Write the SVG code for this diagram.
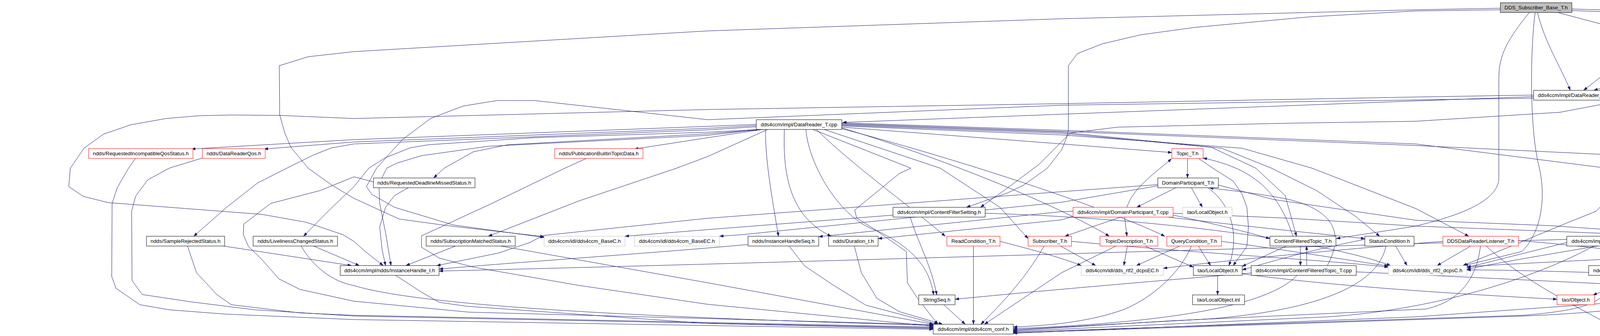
<svg xmlns="http://www.w3.org/2000/svg" width="5435" height="859" viewBox="0 0 5435 859">
<style>
.n rect{fill:#fff;stroke:#000;stroke-width:1}
.n.r rect{stroke:#f00}
.n.g rect{stroke:#bfbfbf}
.n.root rect{fill:#bfbfbf}
.n text{font-family:"Liberation Sans",Arial,Helvetica,sans-serif;font-size:13.3px;text-anchor:middle;fill:#000}
#edges path{fill:none;stroke:#191970;stroke-width:1;marker-end:url(#ah)}
</style>
<defs>
<marker id="ah" markerUnits="userSpaceOnUse" markerWidth="10" markerHeight="8" refX="10" refY="3.5" orient="auto"><path d="M0,0 L10,3.5 L0,7 z" fill="#191970" stroke="#191970" stroke-width="0.5"/></marker>
</defs>
<rect width="5435" height="859" fill="#fff"/>
<g id="edges">
<path d="M3988,32 L4176,82"/>
<path d="M3936,32 C3955,110 3995,170 4020,231"/>
<path d="M3930,32 C3918,120 3914,330 3941,430 C3960,520 3940,600 3896,643 L3748,679"/>
<path d="M3915,32 C3860,100 3837,140 3837,200 L3837,460 C3830,520 3720,555 3624,578 C3520,595 3460,603 3421,610"/>
<path d="M3841,21 L3624,25 L2718,48 L1812,79 L906,132 L789,145 L715,168 L716,293 L729,340 L745,377 L789,430 L849,473 L906,507 L1022,560 L1154,578 L1393,605"/>
<path d="M4024,23 L4530,38 L4992,62 L5085,72 L5131,80 L5171,97 L5223,123 L5268,156"/>
<path d="M4024,27 L4530,45 L4923,89 L5024,112 L5088,137 L5111,168 L5111,318 L5105,337 L5085,360 L5036,387 L4911,430 L4807,455"/>
<path d="M3841,25 L3624,28 L3353,43 L3059,70 L2920,89 L2822,112 L2758,137 L2735,168 L2735,333 L2730,353 L2718,383 L2681,430 L2621,473 L2580,493 L2474,530"/>
<path d="M4213,107 L4054,231"/>
<path d="M4245,107 L4283,156"/>
<path d="M4222,107 C4185,170 4166,230 4166,330 L4166,430 L4147,470 L4127,497 L4086,540 L3994,577 L3867,630 L3745,679"/>
<path d="M4320,100 L4530,120 L4854,163 L4934,182 L5004,202 L5044,220 L5060,243 L5060,322 L5064,350 L5076,377 L5093,397 L5137,430 L5165,450 L5200,483 L5215,510 L5216,697 L5200,730 L5183,750 L5125,779 L5033,793 L4530,816 L4318,833"/>
<path d="M4320,103 L4530,128 L4790,173 L4859,190 L4908,205 L4945,223 L4959,243 L4958,430 L4956,530"/>
<path d="M4248,182 L4080,231"/>
<path d="M4291,182 C4275,260 4230,350 4193,430 C4160,500 4140,550 4129,604"/>
<path d="M4392,182 L4456,212 L4500,240 L4530,245 L4539,257 L4559,293 L4563,430 L4573,604"/>
<path d="M4392,178 L4530,213 L4573,225 L4645,248 L4726,280 L4802,317 L4877,358 L4934,400 L4969,430 L5027,497 L5073,563 L5089,613 L5085,663 L5038,754"/>
<path d="M4277,182 L4231,220 L4173,253 L3994,287 L3624,310 L3296,315 L2862,325 L2740,340 L2660,420 L2580,480 L2510,530"/>
<path d="M3926,247 L3624,258 L2718,292 L2157,313"/>
<path d="M3926,243 L3624,248 L2718,265 L1812,280 L906,303 L716,295 L592,294 L508,296 L425,303 L335,319 L265,343 L215,379 L180,430 L176,477 L213,502 L277,518 L670,548 L783,568 L878,600 L906,617 L935,643 L981,679"/>
<path d="M3926,251 L2718,269 L1812,306 L1368,257 L1273,257 L1186,271 L1102,303 L1030,357 L964,430 L938,477 L952,497 L1010,530 L1160,575 L1393,607"/>
<path d="M4130,255 L4254,277 L4380,300 L4456,330 L4495,360 L4511,430 L4522,520 L4530,543 L4562,604"/>
<path d="M4098,256 L4260,317 L4346,360 L4421,430 L4456,497 L4458,513 L4433,630 L4375,697 L4317,747 L4260,763 L4086,777 L3624,810 L2594,852"/>
<path d="M1936,318 L1812,323 L906,357 L490,381"/>
<path d="M1936,321 L1812,328 L906,363 L676,381"/>
<path d="M1936,324 L1812,332 L906,368 L849,378 L803,396 L734,430 L659,468 L580,530 L496,604"/>
<path d="M1951,331 L1812,352 L1624,381"/>
<path d="M1945,331 L1812,338 L1368,352 L1097,370 L1050,378 L987,403 L944,430 L906,477 L840,540 L777,604"/>
<path d="M1955,331 L1812,342 L1300,370 L1212,388 L1137,430 L1110,455"/>
<path d="M1965,331 L1812,400 L1732,430 L1484,513 L1250,604"/>
<path d="M1940,331 L1812,346 L1250,374 L1079,398 L1016,417 L990,430 L970,470 L972,520 L988,600 L1001,679"/>
<path d="M1960,331 C1958,400 1975,500 1993,604"/>
<path d="M2008,331 C2005,420 2010,550 2128,604"/>
<path d="M2063,331 C2070,420 2150,560 2245,590 C2330,630 2380,680 2390,754"/>
<path d="M2090,331 C2180,420 2320,520 2420,604"/>
<path d="M2110,331 L2407,430 L2560,530 L2632,610"/>
<path d="M2081,331 L2332,430 L2303,443 L2188,537 L2193,557 L2240,587 L2320,643 L2323,723 L2349,763 L2401,829"/>
<path d="M2155,327 C2400,400 2700,520 2840,604"/>
<path d="M2155,329 C2500,420 2850,540 2982,604"/>
<path d="M2155,325 L2718,368 L3000,390"/>
<path d="M2155,318 L2718,338 L3100,376 L3215,430 L3290,500 L3319,604"/>
<path d="M2155,320 L2718,341 L3128,379 L3255,430 L3370,487 L3470,553 L3532,604"/>
<path d="M2155,322 L2718,345 L3180,379 L3359,430 L3624,533 L3760,604"/>
<path d="M2155,314 L2718,333 L3624,368 L4115,430 L4259,455"/>
<path d="M2155,316 L2718,336 L3624,372 L4530,415 L4686,430 L4790,443 L4958,470 L4993,480 L5027,513 L5050,563 L5059,630 L5053,697 L5027,754"/>
<path d="M347,405 L329,430 L300,480 L287,520 L286,707 L297,737 L358,779 L433,792 L577,803 L906,817 L2389,842"/>
<path d="M518,404 L433,430 L378,460 L347,502 L337,540 L338,717 L364,753 L491,772 L653,792 L906,808 L2389,838"/>
<path d="M480,629 L503,697 L555,753 L592,779 L768,800 L906,806 L2389,836"/>
<path d="M572,629 L900,679"/>
<path d="M803,629 L920,679"/>
<path d="M771,629 C800,680 850,720 906,730 C1100,790 1800,815 2389,832"/>
<path d="M1045,480 L1010,500 L987,530 L972,580 L978,637 L987,679"/>
<path d="M956,465 L906,452 L820,487 L693,520 L624,573 L623,600 L636,630 L670,663 L714,713 L768,740 L906,770 L1200,798 L2389,830"/>
<path d="M1166,629 L1039,679"/>
<path d="M1282,629 L1812,723 L2390,829"/>
<path d="M1501,405 L1446,430 L1253,523 L1079,603 L1079,632 L1125,660 L1212,683 L1484,730 L1812,778 L2389,834"/>
<path d="M1013,704 L1079,747 L1125,773 L1195,783 L1812,827 L2389,840"/>
<path d="M2020,629 L2060,680 L2135,730 L2216,780 L2401,829"/>
<path d="M1915,625 C1700,645 1300,672 1124,688"/>
<path d="M2187,629 L2205,697 L2245,763 L2303,797 L2413,829"/>
<path d="M2416,779 L2471,829"/>
<path d="M2492,629 L2492,829"/>
<path d="M2560,617 C2650,640 2720,660 2768,679"/>
<path d="M2673,629 C2620,720 2560,780 2511,829"/>
<path d="M2715,629 L2805,679"/>
<path d="M2743,617 C3100,650 3400,665 3554,683"/>
<path d="M2857,629 L2718,697 L2520,829"/>
<path d="M2886,629 L2877,679"/>
<path d="M2931,629 L3055,683"/>
<path d="M3020,629 L2909,679"/>
<path d="M3068,629 L3099,679"/>
<path d="M3050,629 C3020,700 2950,760 2880,790 C2800,820 2700,832 2594,836"/>
<path d="M3127,617 C3300,640 3450,665 3554,680"/>
<path d="M3329,629 L3329,679"/>
<path d="M3345,679 L3345,629"/>
<path d="M3293,629 L3180,681"/>
<path d="M3310,604 C3270,480 3200,430 3080,404"/>
<path d="M3398,679 C3440,600 3420,540 3300,510 C3200,490 3130,486 3096,480"/>
<path d="M3320,704 C3250,780 3000,825 2594,840"/>
<path d="M3203,698 C3000,715 2700,740 2445,765"/>
<path d="M3472,695 C4000,720 4500,745 4918,765"/>
<path d="M3573,629 L3602,679"/>
<path d="M3494,612 C3350,640 3250,670 3180,690"/>
<path d="M3548,629 C3530,720 3400,790 3100,815 L2594,843"/>
<path d="M3765,629 L3679,679"/>
<path d="M3805,629 C3900,720 4050,790 4127,834"/>
<path d="M3790,629 C3780,710 3740,770 3650,790 L3000,820 L2594,845"/>
<path d="M3694,617 C3400,640 3100,670 2978,686"/>
<path d="M3887,615 C4200,640 4600,700 4960,754"/>
<path d="M4120,629 L4120,679"/>
<path d="M4011,620 L3755,684"/>
<path d="M4080,629 C3950,700 3700,790 3400,810 L2594,847"/>
<path d="M4011,612 C3000,640 2000,672 1124,693"/>
<path d="M4120,704 C4118,760 4100,790 3900,806 L2594,849"/>
<path d="M4343,480 C4362,550 4362,680 4320,740 C4290,770 4200,795 3900,808 L2594,851"/>
<path d="M4222,704 L4078,754"/>
<path d="M3117,704 L3117,754"/>
<path d="M3180,700 C3400,730 3700,750 3986,765"/>
<path d="M3010,480 L2910,530"/>
<path d="M3050,480 L3078,530"/>
<path d="M3093,481 C3150,520 3175,600 3146,679"/>
<path d="M2964,472 L2718,490 L1812,558 L1391,602 L1356,620 L1276,647 L1118,679"/>
<path d="M2964,475 L2718,517 L1899,600 L1842,604"/>
<path d="M3119,473 L3260,510 L3624,563 L3971,577 L4202,593 L4248,617 L4231,643 L4172,679"/>
<path d="M3040,405 L3040,455"/>
<path d="M3068,405 L3105,430 L3157,463 L3180,497 L3192,530 L3196,580 L3192,630 L3157,679"/>
<path d="M2885,530 C2900,480 2960,440 2999,406"/>
<path d="M2869,555 L2726,604"/>
<path d="M2879,555 L2885,604"/>
<path d="M3003,550 C3100,570 3200,595 3251,610"/>
<path d="M2990,555 C3200,580 3400,600 3494,610"/>
<path d="M2747,540 L2718,541 L2096,605"/>
<path d="M2747,553 L2718,562 L2248,610"/>
<path d="M3003,545 L3300,558 L3624,578 L4507,612"/>
<path d="M2286,550 L1812,587 L1600,604"/>
<path d="M2330,555 C2350,620 2385,680 2398,754"/>
<path d="M2522,545 C3000,560 3400,620 3560,679"/>
<path d="M4733,480 L4731,530"/>
<path d="M4775,480 L4908,530"/>
<path d="M4700,480 L4530,545 C4300,600 4000,640 3755,688"/>
<path d="M4700,555 L4608,604"/>
<path d="M4743,555 L4781,604"/>
<path d="M4813,555 C4900,600 4990,650 5012,754"/>
<path d="M4848,555 C4950,600 4960,640 4880,650 L4530,683 L4327,690"/>
<path d="M5266,182 C5200,260 5168,320 5166,400 L5166,640 C5160,700 5120,720 5064,754"/>
<path d="M5015,779 L5015,829"/>
<path d="M4918,777 C4700,800 4500,815 4318,836"/>
<path d="M4573,629 L4565,697 L4530,763 L4318,830"/>
<path d="M4576,629 L4559,697 L4530,713 C4200,700 3900,690 3755,690"/>
<path d="M4676,627 L4530,640 C4200,660 3900,672 3755,682"/>
</g>
<g id="n_root" class="n root"><rect x="3841" y="7" width="183" height="25"/><text x="3932.5" y="24">DDS_Subscriber_Base_T.h</text></g>
<g id="n_reader_h" class="n"><rect x="4144" y="82" width="176" height="25"/><text x="4232" y="99">dds4ccm/impl/Reader_T.h</text></g>
<g id="n_reader_cpp" class="n"><rect x="4203" y="156" width="189" height="25"/><text x="4297.5" y="173">dds4ccm/impl/Reader_T.cpp</text></g>
<g id="n_subbase_cpp" class="n"><rect x="5148" y="156" width="284" height="25"/><text x="5290" y="173">dds4ccm/impl/DDS_Subscriber_Base_T.cpp</text></g>
<g id="n_datareader_h" class="n"><rect x="3926" y="231" width="204" height="25"/><text x="4028" y="248">dds4ccm/impl/DataReader_T.h</text></g>
<g id="n_datareader_cpp" class="n"><rect x="1936" y="306" width="219" height="25"/><text x="2045.5" y="323">dds4ccm/impl/DataReader_T.cpp</text></g>
<g id="n_riqs" class="n r"><rect x="227" y="380" width="267" height="25"/><text x="360.5" y="397">ndds/RequestedIncompatibleQosStatus.h</text></g>
<g id="n_drqos" class="n r"><rect x="518" y="380" width="161" height="25"/><text x="598.5" y="397">ndds/DataReaderQos.h</text></g>
<g id="n_pbtd" class="n r"><rect x="1420" y="380" width="226" height="25"/><text x="1533" y="397">ndds/PublicationBuiltinTopicData.h</text></g>
<g id="n_topic" class="n r"><rect x="3000" y="380" width="80" height="25"/><text x="3040" y="397">Topic_T.h</text></g>
<g id="n_rdms" class="n"><rect x="956" y="455" width="260" height="25"/><text x="1086" y="472">ndds/RequestedDeadlineMissedStatus.h</text></g>
<g id="n_dp_h" class="n"><rect x="2964" y="455" width="155" height="25"/><text x="3041.5" y="472">DomainParticipant_T.h</text></g>
<g id="n_samplelost" class="n"><rect x="4251" y="455" width="173" height="25"/><text x="4337.5" y="472">ndds/SampleLostStatus.h</text></g>
<g id="n_psl_h" class="n"><rect x="4613" y="455" width="243" height="25"/><text x="4734.5" y="472">dds4ccm/impl/PortStatusListener_T.h</text></g>
<g id="n_cfs" class="n"><rect x="2286" y="530" width="236" height="25"/><text x="2404" y="547">dds4ccm/impl/ContentFilterSetting.h</text></g>
<g id="n_dp_cpp" class="n r"><rect x="2747" y="530" width="256" height="25"/><text x="2875" y="547">dds4ccm/impl/DomainParticipant_T.cpp</text></g>
<g id="n_localobj_g" class="n g"><rect x="3028" y="530" width="126" height="25"/><text x="3091" y="547">tao/LocalObject.h</text></g>
<g id="n_psl_cpp" class="n"><rect x="4600" y="530" width="256" height="25"/><text x="4728" y="547">dds4ccm/impl/PortStatusListener_T.cpp</text></g>
<g id="n_copydis" class="n"><rect x="4881" y="530" width="148" height="25"/><text x="4955" y="547">ace/Copy_Disabled.h</text></g>
<g id="n_samplerej" class="n"><rect x="375" y="604" width="200" height="25"/><text x="475" y="621">ndds/SampleRejectedStatus.h</text></g>
<g id="n_liveliness" class="n"><rect x="648" y="604" width="216" height="25"/><text x="756" y="621">ndds/LivelinessChangedStatus.h</text></g>
<g id="n_submatched" class="n"><rect x="1091" y="604" width="228" height="25"/><text x="1205" y="621">ndds/SubscriptionMatchedStatus.h</text></g>
<g id="n_basec" class="n g"><rect x="1393" y="604" width="207" height="25"/><text x="1496.5" y="621">dds4ccm/idl/dds4ccm_BaseC.h</text></g>
<g id="n_baseec" class="n g"><rect x="1624" y="604" width="218" height="25"/><text x="1733" y="621">dds4ccm/idl/dds4ccm_BaseEC.h</text></g>
<g id="n_ihseq" class="n"><rect x="1915" y="604" width="181" height="25"/><text x="2005.5" y="621">ndds/InstanceHandleSeq.h</text></g>
<g id="n_duration" class="n"><rect x="2121" y="604" width="127" height="25"/><text x="2184.5" y="621">ndds/Duration_t.h</text></g>
<g id="n_readcond" class="n r"><rect x="2424" y="604" width="136" height="25"/><text x="2492" y="621">ReadCondition_T.h</text></g>
<g id="n_subscriber" class="n r"><rect x="2632" y="604" width="111" height="25"/><text x="2687.5" y="621">Subscriber_T.h</text></g>
<g id="n_topicdesc" class="n r"><rect x="2816" y="604" width="148" height="25"/><text x="2890" y="621">TopicDescription_T.h</text></g>
<g id="n_querycond" class="n r"><rect x="2987" y="604" width="140" height="25"/><text x="3057" y="621">QueryCondition_T.h</text></g>
<g id="n_cft_h" class="n"><rect x="3251" y="604" width="169" height="25"/><text x="3335.5" y="621">ContentFilteredTopic_T.h</text></g>
<g id="n_statuscond" class="n"><rect x="3494" y="604" width="126" height="25"/><text x="3557" y="621">StatusCondition.h</text></g>
<g id="n_ddsdrl" class="n r"><rect x="3694" y="604" width="193" height="25"/><text x="3790.5" y="621">DDSDataReaderListener_T.h</text></g>
<g id="n_sampleinfo" class="n"><rect x="4011" y="604" width="220" height="25"/><text x="4121" y="621">dds4ccm/impl/ndds/SampleInfo.h</text></g>
<g id="n_utils" class="n"><rect x="4507" y="604" width="145" height="25"/><text x="4579.5" y="621">dds4ccm/impl/Utils.h</text></g>
<g id="n_drhandler" class="n r"><rect x="4676" y="604" width="250" height="25"/><text x="4801" y="621">dds4ccm/impl/DataReaderHandler_T.h</text></g>
<g id="n_ih" class="n"><rect x="871" y="679" width="253" height="25"/><text x="997.5" y="696">dds4ccm/impl/ndds/InstanceHandle_t.h</text></g>
<g id="n_dcpsec" class="n g"><rect x="2768" y="679" width="210" height="25"/><text x="2873" y="696">dds4ccm/idl/dds_rtf2_dcpsEC.h</text></g>
<g id="n_localobj" class="n"><rect x="3055" y="679" width="125" height="25"/><text x="3117.5" y="696">tao/LocalObject.h</text></g>
<g id="n_cft_cpp" class="n"><rect x="3203" y="679" width="269" height="25"/><text x="3337.5" y="696">dds4ccm/impl/ContentFilteredTopic_T.cpp</text></g>
<g id="n_dcpsc" class="n g"><rect x="3554" y="679" width="201" height="25"/><text x="3654.5" y="696">dds4ccm/idl/dds_rtf2_dcpsC.h</text></g>
<g id="n_time" class="n"><rect x="4067" y="679" width="107" height="25"/><text x="4120.5" y="696">ndds/Time_t.h</text></g>
<g id="n_orbcore" class="n r"><rect x="4203" y="679" width="124" height="25"/><text x="4265" y="696">tao/ORB_Core.h</text></g>
<g id="n_stringseq" class="n"><rect x="2352" y="754" width="93" height="25"/><text x="2398.5" y="771">StringSeq.h</text></g>
<g id="n_localobj_inl" class="n"><rect x="3053" y="754" width="133" height="25"/><text x="3119.5" y="771">tao/LocalObject.inl</text></g>
<g id="n_object" class="n r"><rect x="3986" y="754" width="96" height="25"/><text x="4034" y="771">tao/Object.h</text></g>
<g id="n_logmacros" class="n"><rect x="4918" y="754" width="193" height="25"/><text x="5014.5" y="771">dds4ccm/impl/Log_Macros.h</text></g>
<g id="n_conf" class="n"><rect x="2389" y="829" width="205" height="25"/><text x="2491.5" y="846">dds4ccm/impl/dds4ccm_conf.h</text></g>
<g id="n_export" class="n r"><rect x="4127" y="829" width="191" height="25"/><text x="4222.5" y="846">dds4ccm_dds_impl_export.h</text></g>
<g id="n_ciaolog" class="n g"><rect x="4925" y="829" width="180" height="25"/><text x="5015" y="846">ciao/Logger/Log_Macros.h</text></g>
</svg>
